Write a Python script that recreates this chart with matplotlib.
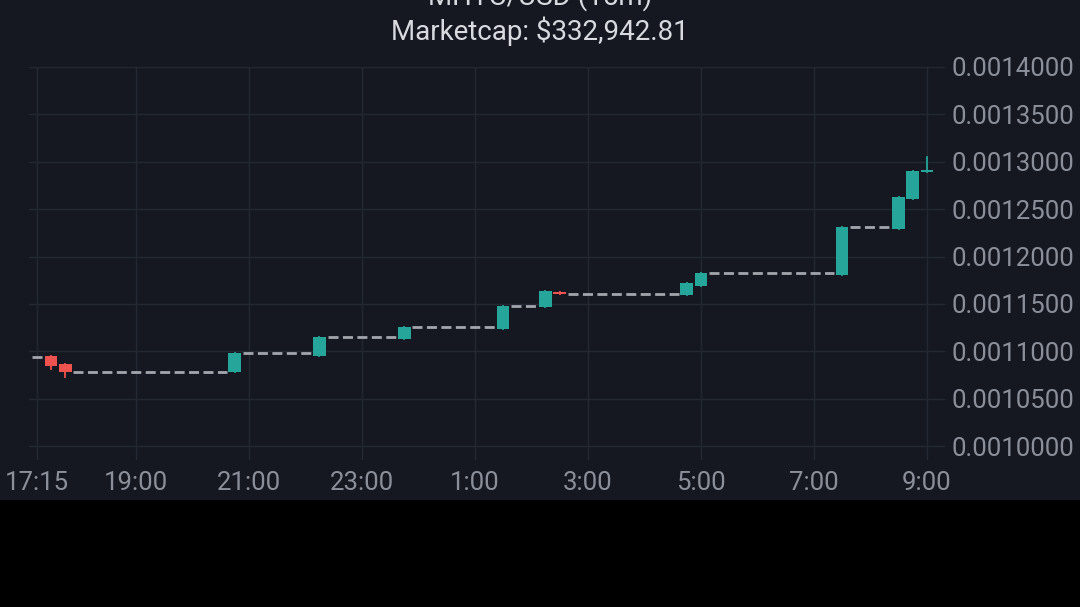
import matplotlib
matplotlib.use('Agg')
import matplotlib.pyplot as plt
from matplotlib.patches import Rectangle
from matplotlib.ticker import FixedLocator, FuncFormatter

plt.rcParams['font.family'] = ['Roboto', 'DejaVu Sans']

BG = '#151821'
GRID = '#242833'
UP = '#26a69a'
DOWN = '#ef5350'
FILL = '#a3a6ad'
LABEL = '#8b8f99'

# candle times in hours (17:15 = 17.25, next day 1:00 = 25)
candle_t = [17.5, 17.75, 20.75, 22.25, 23.75, 25.5, 26.25, 26.5,
            28.75, 29.0, 31.5, 32.5, 32.75, 33.0]
candle_o = [0.0010950, 0.0010862, 0.0010780, 0.0010950, 0.0011130, 0.0011235, 0.0011464,
            0.0011629, 0.0011594, 0.0011689, 0.0011805, 0.0012290, 0.0012604, 0.0012890]
candle_c = [0.0010844, 0.0010778, 0.0010978, 0.0011154, 0.0011253, 0.0011481, 0.0011636,
            0.0011601, 0.0011717, 0.0011830, 0.0012315, 0.0012625, 0.0012906, 0.0012910]
candle_h = [0.0010950, 0.0010862, 0.0010978, 0.0011154, 0.0011253, 0.0011481, 0.0011636,
            0.0011629, 0.0011717, 0.0011830, 0.0012315, 0.0012625, 0.0012906, 0.0013047]
candle_l = [0.0010813, 0.0010725, 0.0010780, 0.0010950, 0.0011130, 0.0011235, 0.0011464,
            0.0011601, 0.0011594, 0.0011689, 0.0011805, 0.0012290, 0.0012604, 0.0012890]
start_t = 17.25
start_level = 0.0010939

x_ticks = [17.25, 19, 21, 23, 25, 27, 29, 31, 33]
x_labels = ['17:15', '19:00', '21:00', '23:00', '1:00', '3:00', '5:00', '7:00', '9:00']
y_ticks = [0.00100, 0.00105, 0.00110, 0.00115, 0.00120, 0.00125, 0.00130, 0.00135, 0.00140]

fig = plt.figure(figsize=(10.8, 6.07), dpi=100)
fig.patch.set_facecolor(BG)
# black strip at the bottom of the screenshot
fig.patches.append(Rectangle((0, 0), 1, 1 - 500 / 607, transform=fig.transFigure,
                             facecolor='black', edgecolor='none', zorder=0))

ax = fig.add_axes([29 / 1080, 1 - 460 / 607, (945 - 29) / 1080, (460 - 67) / 607])
ax.set_facecolor(BG)
for s in ax.spines.values():
    s.set_visible(False)

w = 0.225
# dashed "no trade" fills between candles
ax.plot([start_t - 0.09, start_t + 0.09], [start_level, start_level],
        color=FILL, lw=2, solid_capstyle='butt')
for i in range(1, len(candle_t)):
    if candle_t[i] - candle_t[i - 1] > 0.26:
        ax.plot([candle_t[i - 1] + w / 2 + 0.03, candle_t[i] - w / 2 - 0.03],
                [candle_c[i - 1], candle_c[i - 1]],
                color=FILL, lw=2, dashes=(3.6, 1.6))

for t, o, h, l, c in zip(candle_t, candle_o, candle_h, candle_l, candle_c):
    col = UP if c >= o else DOWN
    ax.plot([t, t], [l, h], color=col, lw=1.3, zorder=3)
    lo, hi = min(o, c), max(o, c)
    ax.add_patch(Rectangle((t - w / 2, lo), w, max(hi - lo, 0.0000025),
                           facecolor=col, edgecolor='none', zorder=4))

ax.set_xlim(17.25 + (29 - 37) / 56.5, 17.25 + (945 - 37) / 56.5)
ax.set_ylim(0.001 - 14 / 947500, 0.0014)

ax.xaxis.set_major_locator(FixedLocator(x_ticks))
ax.set_xticklabels(x_labels)
ax.yaxis.set_major_locator(FixedLocator(y_ticks))
ax.yaxis.set_major_formatter(FuncFormatter(lambda v, p: f'{v:.7f}'))
ax.yaxis.tick_right()
ax.tick_params(axis='both', length=0, colors=LABEL, labelsize=18.5)
ax.tick_params(axis='x', pad=8)
ax.tick_params(axis='y', pad=5)
ax.grid(True, color=GRID, lw=1)
ax.set_axisbelow(True)

fig.text(0.5, 1 - 11 / 607, 'MHTC/USD (15m)', color='#d8dae0', fontsize=20,
         ha='center', va='bottom')
fig.text(0.5, 1 - 31 / 607, 'Marketcap: $332,942.81', color='#d8dae0', fontsize=20,
         ha='center', va='center')

fig.savefig('out.png', dpi=100, facecolor=fig.get_facecolor())
